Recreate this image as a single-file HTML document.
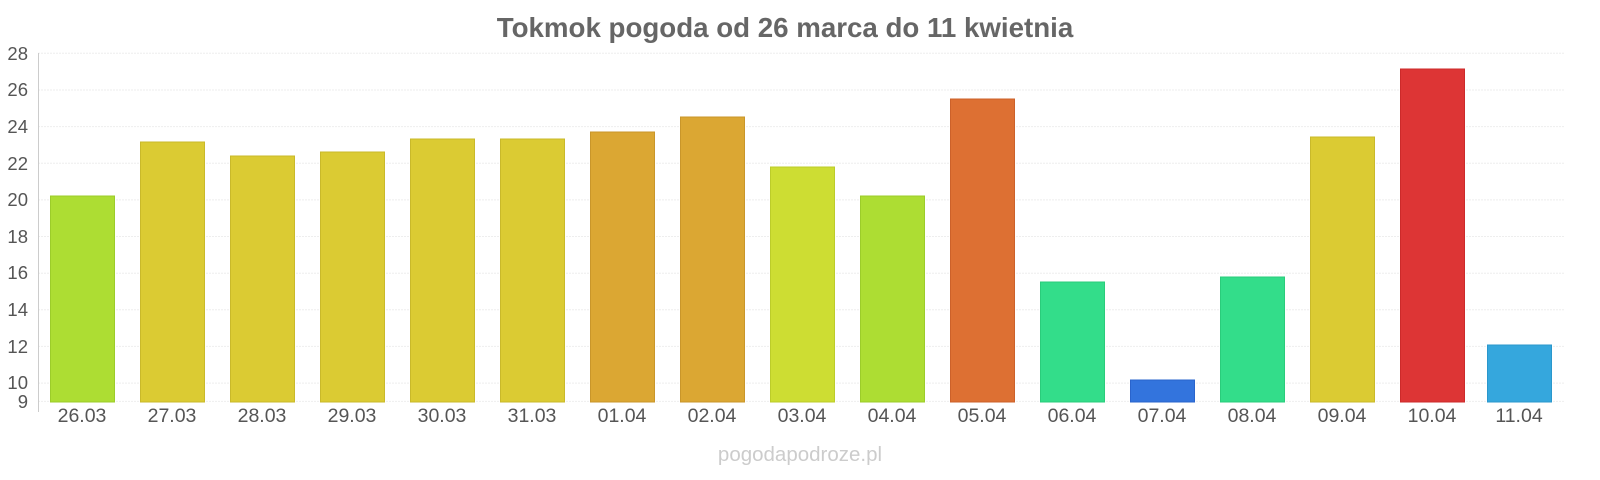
<!DOCTYPE html>
<html><head><meta charset="utf-8"><style>
body{margin:0;background:#fff;}
svg{display:block;font-family:"Liberation Sans",sans-serif;}
</style></head><body>
<svg width="1600" height="480" viewBox="0 0 1600 480">
<text x="785" y="37" text-anchor="middle" font-size="27.7" font-weight="bold" fill="#666">Tokmok pogoda od 26 marca do 11 kwietnia</text>
<g stroke="#eee" stroke-width="1" stroke-dasharray="2,1">
<line x1="38" x2="1565" y1="53.3" y2="53.3"/><line x1="38" x2="1565" y1="90" y2="90"/>
<line x1="38" x2="1565" y1="126.6" y2="126.6"/><line x1="38" x2="1565" y1="163.2" y2="163.2"/>
<line x1="38" x2="1565" y1="199.9" y2="199.9"/><line x1="38" x2="1565" y1="236.5" y2="236.5"/>
<line x1="38" x2="1565" y1="273.2" y2="273.2"/><line x1="38" x2="1565" y1="309.8" y2="309.8"/>
<line x1="38" x2="1565" y1="346.4" y2="346.4"/><line x1="38" x2="1565" y1="383.1" y2="383.1"/>
<line x1="38" x2="1565" y1="401.4" y2="401.4"/>
</g>
<line x1="38.5" x2="38.5" y1="53" y2="412" stroke="#ccc"/>
<g font-size="18.5" fill="#555" text-anchor="end">
<text x="28" y="60">28</text><text x="28" y="96">26</text><text x="28" y="133">24</text>
<text x="28" y="170">22</text><text x="28" y="206">20</text><text x="28" y="243">18</text>
<text x="28" y="279">16</text><text x="28" y="316">14</text><text x="28" y="353">12</text>
<text x="28" y="389">10</text><text x="28" y="408">9</text>
</g>
<g stroke-width="1">
<rect x="50.5" y="196" width="64" height="206" fill="#addd33" stroke="#9ccc2a"/>
<rect x="140.5" y="142" width="64" height="260" fill="#dbcb33" stroke="#c9b92a"/>
<rect x="230.5" y="156" width="64" height="246" fill="#dbcb33" stroke="#c9b92a"/>
<rect x="320.5" y="152" width="64" height="250" fill="#dbcb33" stroke="#c9b92a"/>
<rect x="410.5" y="139" width="64" height="263" fill="#dbcb33" stroke="#c9b92a"/>
<rect x="500.5" y="139" width="64" height="263" fill="#dbcb33" stroke="#c9b92a"/>
<rect x="590.5" y="132" width="64" height="270" fill="#dba733" stroke="#c9962a"/>
<rect x="680.5" y="117" width="64" height="285" fill="#dba733" stroke="#c9962a"/>
<rect x="770.5" y="167" width="64" height="235" fill="#cddd33" stroke="#bccc2a"/>
<rect x="860.5" y="196" width="64" height="206" fill="#addd33" stroke="#9ccc2a"/>
<rect x="950.5" y="99" width="64" height="303" fill="#dd7033" stroke="#cc612a"/>
<rect x="1040.5" y="282" width="64" height="120" fill="#33dd8a" stroke="#2acc7b"/>
<rect x="1130.5" y="380" width="64" height="22" fill="#3374dd" stroke="#2a64cc"/>
<rect x="1220.5" y="277" width="64" height="125" fill="#33dd8a" stroke="#2acc7b"/>
<rect x="1310.5" y="137" width="64" height="265" fill="#dbcb33" stroke="#c9b92a"/>
<rect x="1400.5" y="69" width="64" height="333" fill="#dd3535" stroke="#cc2a2a"/>
<rect x="1487.5" y="345" width="64" height="57" fill="#35a7dd" stroke="#2a97cc"/>
</g>
<g font-size="19.5" fill="#555" text-anchor="middle">
<text x="82" y="422">26.03</text><text x="172" y="422">27.03</text><text x="262" y="422">28.03</text>
<text x="352" y="422">29.03</text><text x="442" y="422">30.03</text><text x="532" y="422">31.03</text>
<text x="622" y="422">01.04</text><text x="712" y="422">02.04</text><text x="802" y="422">03.04</text>
<text x="892" y="422">04.04</text><text x="982" y="422">05.04</text><text x="1072" y="422">06.04</text>
<text x="1162" y="422">07.04</text><text x="1252" y="422">08.04</text><text x="1342" y="422">09.04</text>
<text x="1432" y="422">10.04</text><text x="1519" y="422">11.04</text>
</g>
<text x="800" y="461" text-anchor="middle" font-size="20.5" fill="#ccc">pogodapodroze.pl</text>
</svg>
</body></html>
